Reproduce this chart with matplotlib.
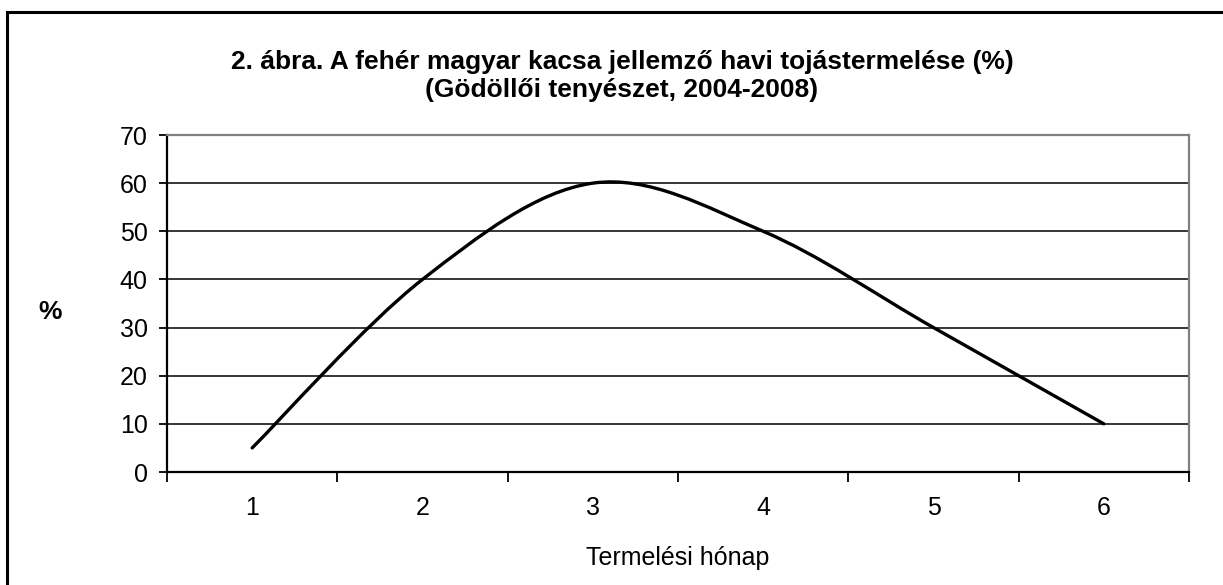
import matplotlib
matplotlib.use("Agg")
import matplotlib.pyplot as plt
from matplotlib.path import Path
from matplotlib.patches import PathPatch, Rectangle
import numpy as np

plt.rcParams['font.family'] = ['Liberation Sans', 'DejaVu Sans']

months = [1, 2, 3, 4, 5, 6]
production = [5, 40, 60, 50, 30, 10]
yticks = [0, 10, 20, 30, 40, 50, 60, 70]
title = "2. ábra. A fehér magyar kacsa jellemző havi tojástermelése (%)\n(Gödöllői tenyészet, 2004-2008)"
xlabel = "Termelési hónap"
ylabel = "%"

fig = plt.figure(figsize=(12.23, 5.85), dpi=100)
ax = fig.add_axes([167/1223, (585-472)/585, (1189-167)/1223, (472-135)/585])

# Excel-style smoothed line (cubic Bezier through the points)
pts = np.column_stack([months, production]).astype(float)
n = len(pts)
ext = np.vstack([pts[0], pts, pts[-1]])
verts = [tuple(pts[0])]
codes = [Path.MOVETO]
for i in range(n - 1):
    p0, p1, p2, p3 = ext[i], ext[i+1], ext[i+2], ext[i+3]
    c1 = p1 + (p2 - p0) / 6.0
    c2 = p2 - (p3 - p1) / 6.0
    verts += [tuple(c1), tuple(c2), tuple(p2)]
    codes += [Path.CURVE4] * 3
patch = PathPatch(Path(verts, codes), facecolor='none', edgecolor='black',
                  lw=2.4, capstyle='round', joinstyle='round', zorder=3)
ax.add_patch(patch)

ax.set_xlim(0.5, 6.5)
ax.set_ylim(0, 70)
ax.set_yticks(yticks)
ax.set_xticks(months)
ax.set_xticks(np.arange(0.5, 7.0, 1.0), minor=True)
ax.tick_params(axis='x', which='major', length=0, pad=17, labelsize=18)
ax.tick_params(axis='x', which='minor', length=7, width=1.3, direction='out')
ax.tick_params(axis='y', which='major', length=6, width=1.3, direction='out', pad=8, labelsize=18)

for y in yticks[1:-1]:
    ax.axhline(y, color='black', lw=1.1, zorder=1)

for s in ['top', 'right']:
    ax.spines[s].set_color('#808080')
    ax.spines[s].set_linewidth(1.6)
for s in ['left', 'bottom']:
    ax.spines[s].set_color('black')
    ax.spines[s].set_linewidth(1.6)

fig.text(622/1223, 1 - 76/585, title, ha='center', va='center',
         fontsize=19, fontweight='bold', linespacing=1.2)
fig.text(678/1223, 1 - 558/585, xlabel, ha='center', va='center', fontsize=18)
fig.text(50/1223, 1 - 312/585, ylabel, ha='center', va='center', fontsize=19, fontweight='bold')

fig.patches.append(Rectangle((7/1223, -0.05), 1.2, 1 - 12/585 + 0.05,
                             transform=fig.transFigure, fill=False,
                             edgecolor='black', lw=2.2))

fig.savefig("out.png", dpi=100)
